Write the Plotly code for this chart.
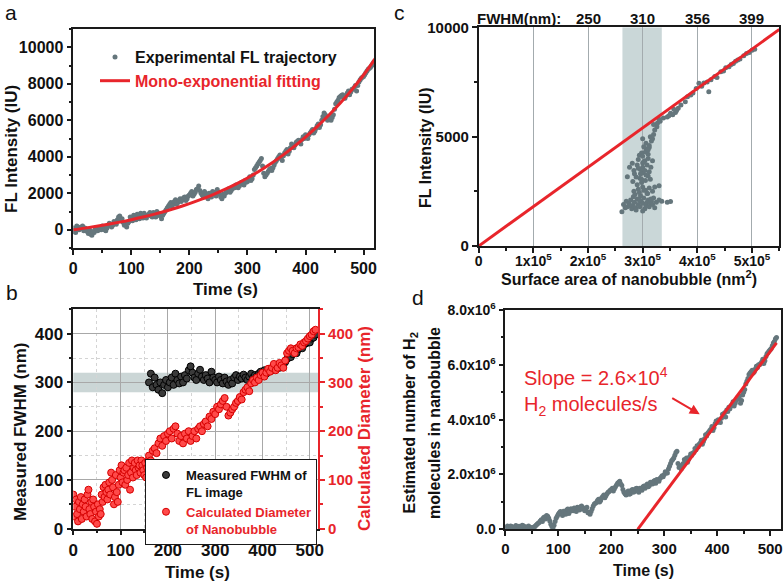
import plotly.graph_objects as go

W, H = 784, 582
FONT = "Liberation Sans, Arial, Helvetica, sans-serif"
GRAY = "#65767c"
RED = "#e8252b"
INK = "#1a1a1a"

# ---------------- Panel a : FL trajectory ----------------
a_time = list(range(0, 520, 4)) + list(range(2, 520, 4))
a_intensity = [
    100, -150, 150, 50, 200, 100, -100, 0, -300, -150,
    50, 100, 0, 150, -50, 200, 300, 250, 400, 550,
    750, 600, 250, 150, 450, 600, 800, 550, 700, 900,
    650, 750, 800, 950, 700, 850, 1000, 800, 600, 900,
    1100, 1300, 1500, 1400, 1650, 1500, 1700, 1650, 1800, 1700,
    1900, 2100, 1950, 2200, 2400, 2000, 1800, 2000, 1700, 1900,
    2100, 1950, 2200, 1950, 1700, 1850, 2050, 2250, 2150, 2350,
    2450, 2300, 2550, 2500, 2700, 2650, 2900, 2800, 3300, 3500,
    3700, 3900, 3100, 3000, 3200, 3350, 3400, 3700, 3900, 4100,
    3800, 4200, 4400, 4300, 4700, 4500, 4800, 4900, 4700, 5100,
    5200, 5000, 5300, 5500, 5400, 5700, 5600, 6000, 6400, 6100,
    6200, 6000, 6300, 6900, 7100, 7300, 7400, 7200, 7500, 7400,
    7700, 7800, 7600, 8100, 8300, 8400, 8600, 8800, 8900, 9100,
    # odd samples (t = 2, 6, 10, ...)
    -100, 200, 0, 150, -50, 50, -200, -250, -100, 100,
    -50, 50, 200, 0, 100, 350, 150, 450, 300, 700,
    500, 400, 300, 350, 700, 500, 650, 850, 600, 800,
    900, 650, 850, 750, 950, 700, 900, 750, 800, 1000,
    1200, 1400, 1300, 1550, 1400, 1600, 1550, 1750, 1600, 1850,
    2000, 1850, 2050, 2250, 2150, 1900, 2100, 1800, 2000, 1800,
    2050, 1850, 2050, 1800, 1950, 2000, 2150, 2050, 2250, 2300,
    2400, 2400, 2600, 2450, 2600, 2800, 2700, 3000, 3400, 3600,
    3800, 3500, 2900, 3100, 3300, 3250, 3550, 3800, 4000, 3900,
    4050, 4300, 4150, 4500, 4600, 4650, 4850, 4800, 4950, 5000,
    5100, 5200, 5400, 5300, 5550, 5800, 5750, 6200, 6300, 6000,
    6100, 6150, 6600, 7000, 7250, 7350, 7200, 7350, 7600, 7550,
    7700, 7900, 7900, 8200, 8350, 8500, 8700, 8850, 9000, 9200,
]
a_fit_time = list(range(0, 540, 20))
a_fit = [0, 90, 190, 299, 419, 550, 695, 854, 1028, 1220,
         1430, 1662, 1916, 2195, 2502, 2839, 3209, 3616, 4062, 4554,
         5080, 5650, 6270, 6940, 7680, 8480, 9380]
a_ytickvals = [0, 2000, 4000, 6000, 8000, 10000]
a_yticktext = ["0", "2000", "4000", "6000", "8000", "10000"]

# ---------------- Panel b : FWHM and diameter ----------------
b_black_time = list(range(160, 516, 4))
b_fwhm = [
    300, 318, 290, 310, 295, 285, 300, 278, 295, 305,
    290, 300, 310, 295, 318, 305, 298, 312, 300, 315,
    308, 325, 333, 320, 310, 305, 318, 326, 312, 305,
    315, 308, 300, 322, 310, 305, 300, 312, 305, 298,
    310, 302, 295, 305, 298, 310, 315, 305, 312, 308,
    316, 310, 305, 312, 318, 310, 315, 312, 318, 322,
    320, 325, 318, 322, 328, 325, 330, 328, 335, 330,
    338, 335, 342, 348, 355, 352, 358, 362, 360, 368,
    372, 370, 378, 380, 385, 382, 390, 392, 398,
]
b_red_time = list(range(0, 162, 2)) + list(range(164, 516, 4))
b_diameter = [
    70, 25, 45, 60, 30, 15, 55, 40, 65, 20,
    50, 35, 60, 45, 25, 70, 80, 40, 30, 55,
    20, 60, 45, 15, 35, 10, 50, 25, 40, 30,
    70, 55, 85, 65, 90, 75, 60, 80, 95, 70,
    115, 100, 85, 50, 65, 110, 75, 55, 90, 120,
    105, 130, 95, 115, 120, 90, 125, 100, 110, 135,
    80, 115, 140, 105, 125, 135, 120, 110, 140, 125,
    130, 115, 140, 130, 120, 110, 135, 105, 125, 140,
    150,
    140, 160, 165, 155, 175, 185, 170, 190, 180,
    195, 200, 185, 205, 210, 195, 180, 190, 175, 195,
    185, 200, 180, 190, 200, 185, 205, 210, 200, 215,
    220, 210, 230, 225, 240, 235, 250, 245, 255, 262,
    268, 250, 232, 238, 245, 250, 258, 262, 270, 265,
    280, 285, 290, 282, 298, 305, 300, 310, 305, 315,
    320, 312, 320, 328, 322, 330, 338, 325, 330, 340,
    335, 330, 345, 360, 365, 370, 365, 360, 370, 372,
    378, 375, 382, 385, 390, 395, 398, 405, 408,
]

# ---------------- Panel c : intensity vs surface area ----------------
c_area = [
    262e3, 265e3, 268e3, 270e3, 272e3, 275e3, 278e3, 280e3, 282e3, 285e3,
    287e3, 290e3, 292e3, 295e3, 297e3, 300e3, 302e3, 304e3, 306e3, 308e3,
    310e3, 312e3, 314e3, 316e3, 318e3, 320e3, 322e3, 325e3, 330e3, 335e3,
    345e3, 351e3, 283e3, 296e3, 309e3, 288e3, 300e3, 276e3, 294e3, 315e3,
    284e3, 292e3, 300e3, 305e3, 312e3, 318e3, 298e3, 290e3, 282e3, 295e3,
    305e3, 272e3, 285e3, 300e3, 310e3, 296e3, 304e3, 315e3, 281e3, 276e3,
    290e3, 300e3, 308e3, 318e3, 322e3, 330e3, 312e3, 292e3,
    286e3, 294e3, 302e3, 308e3, 298e3, 288e3, 306e3, 314e3, 296e3, 300e3,
    292e3, 304e3, 310e3, 284e3, 298e3, 306e3, 302e3, 294e3, 312e3, 300e3,
    300e3, 305e3, 310e3, 302e3, 312e3, 306e3, 316e3, 314e3, 320e3, 318e3,
    322e3, 326e3, 310e3, 320e3,
    327e3, 332e3, 330e3, 338e3, 345e3, 351e3, 355e3, 348e3, 360e3, 362e3,
    357e3, 365e3,
    370e3, 378e3, 382e3, 388e3, 392e3, 398e3, 403e3, 408e3, 412e3, 421e3,
    418e3, 425e3, 432e3, 436e3, 443e3, 448e3, 452e3, 458e3, 462e3, 466e3,
    470e3, 474e3, 478e3, 485e3, 490e3, 495e3, 500e3, 505e3,
]
c_intensity = [
    1570, 1900, 1750, 2050, 1800, 1950, 2100, 1700, 1850, 2000,
    1750, 2150, 1900, 1800, 2050, 1950, 2200, 1700, 1850, 2000,
    2100, 1800, 1950, 2050, 1900, 2200, 1750, 2000, 2100, 2050,
    2000, 2030, 2250, 2300, 2400, 1650, 1600, 1850, 2100, 2150,
    2500, 2600, 2700, 2550, 2650, 2500, 2900, 2800, 2950, 3100,
    3000, 3170, 3300, 3350, 3200, 3500, 3450, 3600, 3780, 3600,
    3700, 3800, 3700, 3900, 2700, 2750, 3400, 3950,
    2350, 2450, 2550, 2400, 3050, 3150, 3250, 3050, 3300, 3600,
    3550, 3900, 4000, 3450, 4250, 4450, 3850, 4150, 4600, 4900,
    4100, 4300, 4200, 4541, 4500, 4700, 4800, 5000, 5100, 4900,
    5300, 5450, 4400, 5550,
    5610, 5700, 5800, 5850, 5900, 6067, 6000, 5950, 6100, 6200,
    6250, 6300,
    6450, 6600, 6830, 6900, 7000, 7200, 7440, 7300, 7450, 7056,
    7500, 7600, 7750, 7700, 7970, 8000, 8150, 8200, 8300, 8350,
    8450, 8505, 8550, 8700, 8800, 8850, 8950, 8994,
]
c_fit_area = [0, 550000]
c_fit_intensity = [0, 9900]
c_top_positions = [2e5, 3e5, 4e5, 5e5]
c_top_labels = ["250", "310", "356", "399"]
c_tickvals = [0, 1e5, 2e5, 3e5, 4e5, 5e5]
c_ticktext = ["0", "1x10<sup>5</sup>", "2x10<sup>5</sup>", "3x10<sup>5</sup>",
              "4x10<sup>5</sup>", "5x10<sup>5</sup>"]
c_ytickvals = [0, 5000, 10000]
c_yticktext = ["0", "5000", "10000"]

# ---------------- Panel d : number of H2 molecules ----------------
d_time = list(range(0, 516, 4)) + list(range(2, 512, 4))
d_molecules_m = [
    0.05, 0.12, 0.02, 0.10, 0.06, 0.14, 0.08, 0.03, 0.15, 0.10,
    0.04, 0.12, 0.07, 0.02, 0.10, 0.18, 0.25, 0.35, 0.42, 0.38,
    0.48, 0.30, 0.10, 0.15, 0.40, 0.55, 0.65, 0.50, 0.62, 0.70,
    0.58, 0.75, 0.68, 0.72, 0.80, 0.70, 0.85, 0.78, 0.72, 0.60,
    0.55, 0.75, 0.92, 0.98, 1.10, 1.05, 1.20, 1.15, 1.30, 1.38,
    1.45, 1.40, 1.55, 1.68, 1.75, 1.60, 1.35, 1.25, 1.40, 1.30,
    1.45, 1.38, 1.50, 1.35, 1.45, 1.55, 1.50, 1.65, 1.60, 1.70,
    1.75, 1.68, 1.80, 1.85, 1.95, 2.00, 2.05, 2.20, 2.40, 2.55,
    2.70, 2.85, 2.25, 2.20, 2.40, 2.50, 2.45, 2.65, 2.70, 2.80,
    2.90, 3.00, 3.15, 3.10, 3.30, 3.40, 3.55, 3.65, 3.60, 3.85,
    3.90, 3.95, 4.05, 4.15, 4.10, 4.30, 4.40, 4.55, 4.50, 4.70,
    4.75, 4.60, 4.90, 5.10, 5.40, 5.65, 5.75, 5.70, 5.85, 5.90,
    6.00, 6.10, 6.05, 6.30, 6.45, 6.55, 6.70, 6.85, 7.00,
    # odd samples (t = 2, 6, 10, ...)
    0.08, 0.04, 0.12, 0.05, 0.09, 0.02, 0.11, 0.06, 0.13, 0.05,
    0.09, 0.03, 0.06, 0.08, 0.15, 0.22, 0.30, 0.28, 0.45, 0.50,
    0.40, 0.18, 0.05, 0.28, 0.48, 0.60, 0.58, 0.66, 0.55, 0.74,
    0.66, 0.70, 0.78, 0.65, 0.76, 0.82, 0.74, 0.68, 0.80, 0.62,
    0.65, 0.85, 0.95, 1.05, 1.00, 1.15, 1.25, 1.22, 1.35, 1.42,
    1.50, 1.48, 1.62, 1.72, 1.65, 1.45, 1.30, 1.35, 1.28, 1.42,
    1.35, 1.48, 1.40, 1.50, 1.42, 1.58, 1.60, 1.55, 1.72, 1.65,
    1.78, 1.82, 1.75, 1.90, 1.92, 2.10, 2.05, 2.30, 2.50, 2.60,
    2.80, 2.40, 2.30, 2.35, 2.55, 2.60, 2.55, 2.75, 2.78, 2.95,
    3.05, 3.10, 3.25, 3.20, 3.45, 3.50, 3.60, 3.75, 3.70, 3.95,
    4.00, 3.90, 4.20, 4.25, 4.35, 4.45, 4.50, 4.65, 4.60, 4.80,
    4.85, 4.70, 5.00, 5.30, 5.50, 5.70, 5.80, 5.75, 5.95, 6.00,
    6.05, 6.20, 6.15, 6.40, 6.50, 6.60, 6.80, 6.95,
]
d_fit_time = [250, 512]
d_fit_m = [0, 6.8]
d_tickvals = [0, 2, 4, 6, 8]
d_ticktext = ["0.0", "2.0x10<sup>6</sup>", "4.0x10<sup>6</sup>",
              "6.0x10<sup>6</sup>", "8.0x10<sup>6</sup>"]


# pixel helpers (screen pixels -> paper fractions)
def px(x):
    return x / W


def py(y):
    return 1 - y / H


def xd(a, b):
    return [px(a), px(b)]


def yd(top, bottom):
    return [py(bottom), py(top)]


fig = go.Figure()

# a
fig.add_trace(go.Scatter(x=a_time, y=a_intensity, mode="markers",
                         marker=dict(size=5, color=GRAY),
                         name="Experimental FL trajectory",
                         xaxis="x", yaxis="y", legend="legend"))
fig.add_trace(go.Scatter(x=a_fit_time, y=a_fit, mode="lines",
                         line=dict(color=RED, width=3, shape="spline"),
                         name=f'<span style="color:{RED}">Mono-exponential fitting</span>',
                         xaxis="x", yaxis="y", legend="legend"))
# b
fig.add_trace(go.Scatter(x=b_black_time, y=b_fwhm, mode="markers",
                         marker=dict(size=7, color="#3a3a3a", line=dict(color="#000", width=1)),
                         name="Measured FWHM of<br>FL image",
                         xaxis="x2", yaxis="y2", legend="legend2"))
fig.add_trace(go.Scatter(x=b_red_time, y=b_diameter, mode="markers",
                         marker=dict(size=7, color="#ff4a4a", line=dict(color="#d60000", width=1)),
                         name=(f'<span style="color:{RED}">Calculated Diameter</span><br>'
                               f'<span style="color:{RED}">of Nanobubble</span>'),
                         xaxis="x2", yaxis="y5", legend="legend2"))
# c
fig.add_trace(go.Scatter(x=c_area, y=c_intensity, mode="markers",
                         marker=dict(size=5, color=GRAY), showlegend=False,
                         xaxis="x3", yaxis="y3"))
fig.add_trace(go.Scatter(x=c_fit_area, y=c_fit_intensity, mode="lines",
                         line=dict(color=RED, width=3), showlegend=False,
                         xaxis="x3", yaxis="y3"))
# d
fig.add_trace(go.Scatter(x=d_time, y=d_molecules_m, mode="markers",
                         marker=dict(size=5, color=GRAY), showlegend=False,
                         xaxis="x4", yaxis="y4"))
fig.add_trace(go.Scatter(x=d_fit_time, y=d_fit_m, mode="lines",
                         line=dict(color=RED, width=3), showlegend=False,
                         xaxis="x4", yaxis="y4"))


def axis(size, **kw):
    base = dict(showline=True, linecolor=INK, linewidth=1.5, mirror=True,
                ticks="outside", ticklen=5, tickwidth=1.5, tickcolor=INK,
                showgrid=False, zeroline=False, automargin=False,
                tickfont=dict(family=FONT, size=size, color="#111", weight="bold"))
    base.update(kw)
    return base


def minor_t(d):
    return dict(ticks="outside", ticklen=3, tickcolor=INK, dtick=d)


layout = dict(
    width=W, height=H, margin=dict(l=0, r=0, t=0, b=0, autoexpand=False),
    paper_bgcolor="white", plot_bgcolor="white",
    font=dict(family=FONT, color="#111"),
    xaxis=axis(16, domain=xd(73.3, 374), anchor="y", range=[0, 518],
               dtick=100, minor=minor_t(50)),
    yaxis=axis(16, domain=yd(29, 248), anchor="x", range=[-1000, 11000],
               tickvals=a_ytickvals, ticktext=a_yticktext, minor=minor_t(1000)),
    xaxis2=axis(17, domain=xd(73.3, 318.3), anchor="y2", range=[0, 518],
                dtick=100, showgrid=True, gridcolor="#a8a8a8", gridwidth=1,
                minor=dict(ticks="outside", ticklen=3, tickcolor=INK, dtick=50,
                           showgrid=True, gridcolor="#d4d4d4", griddash="dot")),
    yaxis2=axis(17, domain=yd(309.3, 528.7), anchor="x2", range=[0, 450],
                dtick=100, mirror=False, showgrid=True, gridcolor="#a8a8a8", gridwidth=1,
                minor=dict(ticks="outside", ticklen=3, tickcolor=INK, dtick=50,
                           showgrid=True, gridcolor="#d4d4d4", griddash="dot")),
    yaxis5=dict(overlaying="y2", side="right", anchor="x2", range=[0, 450], dtick=100,
                showline=True, linecolor=RED, linewidth=1.5, ticks="outside",
                ticklen=5, tickwidth=1.5, tickcolor=RED, showgrid=False, zeroline=False,
                automargin=False,
                tickfont=dict(family=FONT, size=15, color=RED, weight="bold"),
                minor=dict(ticks="outside", ticklen=3, tickcolor=RED, dtick=50)),
    xaxis3=axis(14, domain=xd(478.7, 779.3), anchor="y3", range=[0, 550000],
                tickvals=c_tickvals, ticktext=c_ticktext, showgrid=True,
                gridcolor="#a3abae", gridwidth=1, minor=minor_t(50000),
                ticklabelstandoff=-4),
    yaxis3=axis(15, domain=yd(27.3, 246), anchor="x3", range=[0, 10000],
                tickvals=c_ytickvals, ticktext=c_yticktext, minor=minor_t(2500)),
    xaxis4=axis(15, domain=xd(505.3, 781.3), anchor="y4", range=[0, 521],
                dtick=100, minor=minor_t(50)),
    yaxis4=axis(14, domain=yd(310, 529.3), anchor="x4", range=[0, 8],
                tickvals=d_tickvals, ticktext=d_ticktext, minor=minor_t(1)),
    legend=dict(x=px(95), y=py(40), xanchor="left", yanchor="top",
                bgcolor="rgba(0,0,0,0)", borderwidth=0,
                font=dict(family=FONT, size=16, color="#111", weight="bold"),
                tracegroupgap=0),
    legend2=dict(x=px(145), y=py(459), xanchor="left", yanchor="top",
                 bgcolor="white", bordercolor=INK, borderwidth=1, valign="top",
                 font=dict(family=FONT, size=13, color="#111", weight="bold"),
                 tracegroupgap=0),
    showlegend=True,
)
fig.update_layout(**layout)

# bands
fig.add_shape(type="rect", xref="x2 domain", yref="y2", x0=0, x1=1, y0=280, y1=320,
              fillcolor="rgba(140,165,165,0.45)", line=dict(width=0), layer="below")
fig.add_shape(type="rect", xref="x3", yref="y3", x0=263000, x1=335000, y0=0, y1=10000,
              fillcolor="rgba(150,175,178,0.5)", line=dict(width=0), layer="below")

ann = []


def label(x, y, text, size=17, color="#111", bold=True, angle=0, xanchor="center"):
    ann.append(dict(x=px(x), y=py(y), xref="paper", yref="paper", text=text,
                    showarrow=False, textangle=angle, xanchor=xanchor, yanchor="middle",
                    font=dict(family=FONT, size=size, color=color,
                              weight="bold" if bold else "normal")))


# panel letters
label(11, 12, "a", size=21, bold=False)
label(12, 292, "b", size=21, bold=False)
label(399, 12, "c", size=21, bold=False)
label(418, 297, "d", size=21, bold=False)

# axis titles
label(225, 289, "Time (s)", size=17)
label(11, 149, "FL Intensity (IU)", size=17, angle=-90)
label(197, 572, "Time (s)", size=17)
label(20, 432, "Measured FWHM (nm)", size=17, angle=-90)
label(364, 429, "Calculated Diameter (nm)", size=17, color=RED, angle=-90)
label(629, 278, "Surface area of nanobubble (nm<sup>2</sup>)", size=16)
label(425, 148, "FL Intensity (IU)", size=16, angle=-90)
label(643, 570, "Time (s)", size=16)
label(409.5, 423, "Estimated number of H<sub>2</sub>", size=16, angle=-90)
label(434, 423, "molecules in nanobubble", size=16, angle=-90)

# top labels of c
label(519, 18, "FWHM(nm):", size=15)
for pos, txt in zip(c_top_positions, c_top_labels):
    ann.append(dict(x=pos, y=py(18), xref="x3", yref="paper", text=txt, showarrow=False,
                    xanchor="center", yanchor="middle",
                    font=dict(family=FONT, size=15, color="#111", weight="bold")))

# slope annotation (two lines in one text block)
ann.append(dict(x=px(522), y=py(391.5), xref="paper", yref="paper",
                text="Slope = 2.6×10<sup>4</sup><br>H<sub>2</sub> molecules/s",
                showarrow=False, xanchor="left", yanchor="middle", align="left",
                font=dict(family=FONT, size=20, color=RED)))
ann.append(dict(x=367, y=4.2, xref="x4", yref="y4", ax=-29, ay=-17, text="",
                showarrow=True, arrowcolor=RED, arrowwidth=2, arrowhead=2, arrowsize=1))

fig.update_layout(annotations=ann)
fig.write_html("out.html", config={"displayModeBar": False},
               post_script="document.body.style.margin='0px';")
